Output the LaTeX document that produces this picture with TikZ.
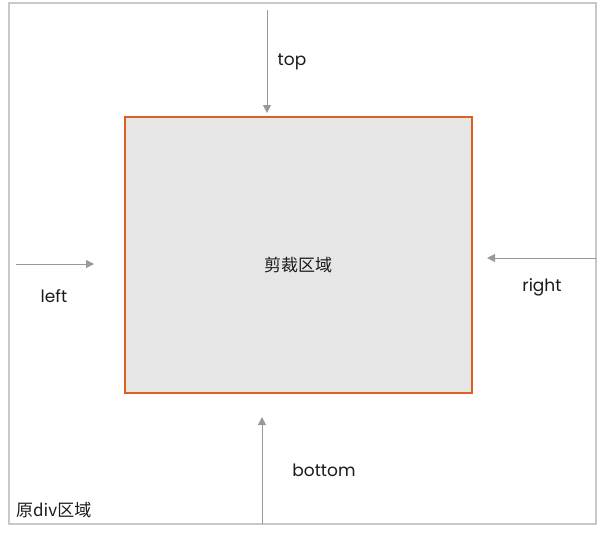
\documentclass[tikz,border=0pt]{standalone}
\usepackage{fontspec}
\setmainfont{Poppins}
\newfontfamily\cjk{Noto Sans CJK SC}
\usetikzlibrary{arrows.meta}
\definecolor{frame}{HTML}{C8C8C8}
\definecolor{clipor}{HTML}{DD5F22}
\definecolor{clipfill}{HTML}{E6E6E6}
\definecolor{arr}{HTML}{999999}
\definecolor{txt}{HTML}{1A1A1A}
\tikzset{
  lbl/.style={font=\fontsize{17}{20}\selectfont, text=txt, inner sep=0pt},
  cjklbl/.style={font=\cjk\fontsize{17}{20}\selectfont, text=txt, inner sep=0pt},
  arrline/.style={draw=arr, line width=1pt, -{Triangle[length=8pt,width=8pt]}},
}
\begin{document}
\begin{tikzpicture}[x=1pt,y=-1pt]
\useasboundingbox (0,0) rectangle (601,536);
\draw[frame, line width=1.5pt] (9,3) rectangle (596,524);
\draw[clipor, fill=clipfill, line width=2pt] (125,117) rectangle (472,393);
\node[cjklbl] (clip) at (298,265) {剪裁区域};
\node[cjklbl, anchor=west] (orig) at (16,510) {原div区域};
\coordinate (topS) at (267,10);
\coordinate (topE) at (267,113);
\draw[arrline] (topS) -- (topE);
\node[lbl] (toplbl) at (292,62) {top};
\coordinate (leftS) at (16,264);
\coordinate (leftE) at (94,264);
\draw[arrline] (leftS) -- (leftE);
\node[lbl] (leftlbl) at (54,296) {left};
\coordinate (rightS) at (596,258);
\coordinate (rightE) at (487,258);
\draw[arrline] (rightS) -- (rightE);
\node[lbl] (rightlbl) at (542,287) {right};
\coordinate (botS) at (262,524);
\coordinate (botE) at (262,417);
\draw[arrline] (botS) -- (botE);
\node[lbl] (botlbl) at (324,470) {bottom};
\end{tikzpicture}
\end{document}
